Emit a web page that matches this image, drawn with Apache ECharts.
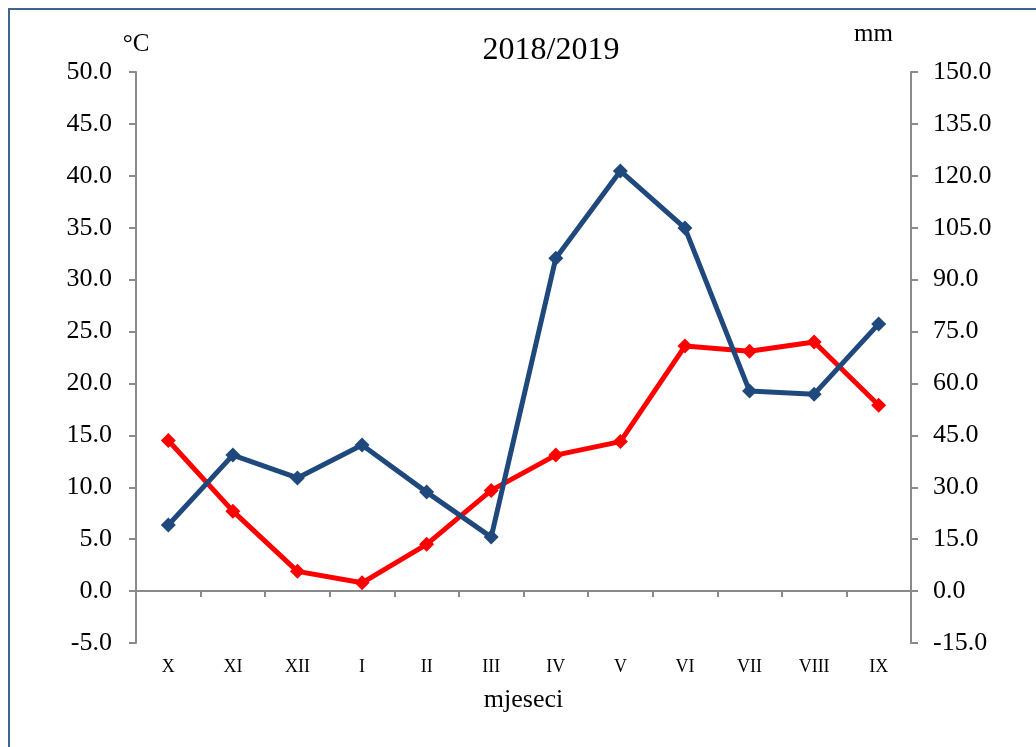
<!DOCTYPE html>
<html>
<head>
<meta charset="utf-8">
<script src="https://cdn.jsdelivr.net/npm/echarts@6/dist/echarts.min.js"></script>
<style>
  html, body { margin: 0; padding: 0; background: #fff; }
  #chart { width: 1036px; height: 747px; }
</style>
</head>
<body>
<div id="chart"></div>
<script>
// months of the hydrological year
const months = ['X', 'XI', 'XII', 'I', 'II', 'III', 'IV', 'V', 'VI', 'VII', 'VIII', 'IX'];
// air temperature, °C (left axis)
const temperature = [14.5, 7.7, 1.9, 0.8, 4.5, 9.7, 13.1, 14.4, 23.6, 23.1, 24.0, 17.9];
// precipitation, mm (right axis)
const precipitation = [19.1, 39.3, 32.7, 42.2, 28.6, 15.6, 96.2, 121.4, 104.9, 57.8, 56.9, 77.2];

const font = 'Liberation Serif';
const axisGray = '#8a8a8a';

const chart = echarts.init(document.getElementById('chart'));

const options = {
  animation: false,
  textStyle: { fontFamily: font, color: '#000' },
  title: {
    text: '2018/2019',
    left: 546,
    top: 30,
    textAlign: 'center',
    textStyle: { fontFamily: font, fontSize: 32, fontWeight: 'normal', color: '#000' }
  },
  graphic: [
    {
      type: 'rect',
      shape: { x: 9, y: 9, width: 1100, height: 800 },
      style: { fill: 'none', stroke: '#41648f', lineWidth: 2 },
      silent: true
    }
  ],
  grid: { left: 136, right: 125, top: 72, bottom: 104 },
  xAxis: [
    {
      type: 'category',
      data: months,
      boundaryGap: true,
      position: 'bottom',
      axisLine: { show: false, onZero: false },
      axisTick: { show: false },
      axisLabel: { fontFamily: font, fontSize: 18, color: '#000', margin: 15 },
      name: 'mjeseci',
      nameLocation: 'middle',
      nameGap: 44,
      nameTextStyle: { fontFamily: font, fontSize: 26, color: '#000' }
    },
    {
      type: 'category',
      data: months,
      boundaryGap: true,
      position: 'bottom',
      axisLine: { show: true, onZero: true, onZeroAxisIndex: 0, lineStyle: { color: axisGray, width: 2 } },
      axisTick: { show: true, length: 6, lineStyle: { color: axisGray, width: 2 } },
      axisLabel: { show: false }
    }
  ],
  yAxis: [
    {
      type: 'value',
      min: -5,
      max: 50,
      interval: 5,
      position: 'left',
      name: '°C',
      nameLocation: 'end',
      nameGap: 15,
      nameTextStyle: { fontFamily: font, fontSize: 25, color: '#000' },
      axisLine: { show: true, lineStyle: { color: axisGray, width: 2 } },
      axisTick: { show: true, length: 7, lineStyle: { color: axisGray, width: 2 } },
      splitLine: { show: false },
      axisLabel: {
        fontFamily: font, fontSize: 26, color: '#000', margin: 24,
        formatter: v => v.toFixed(1)
      }
    },
    {
      type: 'value',
      min: -15,
      max: 150,
      interval: 15,
      position: 'right',
      name: 'mm',
      nameLocation: 'end',
      nameGap: 25,
      nameTextStyle: { fontFamily: font, fontSize: 25, color: '#000', align: 'right', padding: [0, 18, 0, 0] },
      axisLine: { show: true, lineStyle: { color: axisGray, width: 2 } },
      axisTick: { show: true, length: 7, lineStyle: { color: axisGray, width: 2 } },
      splitLine: { show: false },
      axisLabel: {
        fontFamily: font, fontSize: 26, color: '#000', margin: 22,
        formatter: v => v.toFixed(1)
      }
    }
  ],
  series: [
    {
      name: 'temperatura',
      type: 'line',
      xAxisIndex: 0,
      yAxisIndex: 0,
      data: temperature,
      symbol: 'diamond',
      symbolSize: 15,
      lineStyle: { color: '#ff0000', width: 5 },
      itemStyle: { color: '#ff0000' },
      z: 3
    },
    {
      name: 'oborine',
      type: 'line',
      xAxisIndex: 0,
      yAxisIndex: 1,
      data: precipitation,
      symbol: 'diamond',
      symbolSize: 15,
      lineStyle: { color: '#1f497d', width: 5 },
      itemStyle: { color: '#1f497d' },
      z: 4
    }
  ]
};

chart.setOption(options);
</script>
</body>
</html>
